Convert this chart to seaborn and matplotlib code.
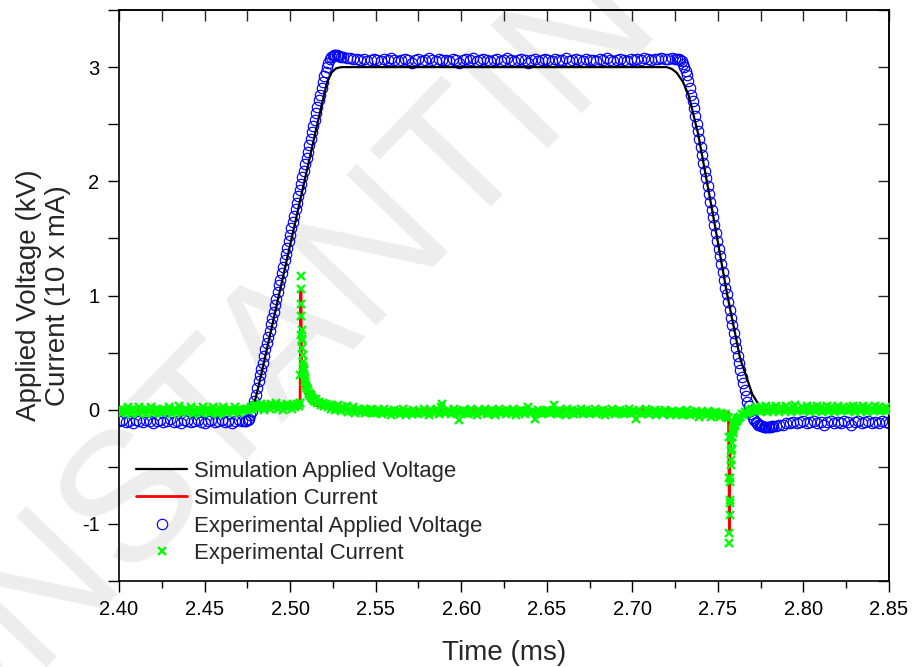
import numpy as np
import pandas as pd
import matplotlib
matplotlib.use("Agg")
import matplotlib.pyplot as plt
import seaborn as sns
from matplotlib.ticker import MultipleLocator, FormatStrFormatter

# ---------------- data ----------------
# simulated applied voltage (kV), breakpoints of the trapezoidal pulse
volt_sim_t = [2.400, 2.4775, 2.4790, 2.4810, 2.4830, 2.5000, 2.5150, 2.5190, 2.5215,
              2.5240, 2.5270, 2.5300, 2.7200, 2.7230, 2.7260, 2.7296, 2.7330, 2.7384,
              2.7470, 2.7553, 2.7630, 2.7700, 2.7740, 2.7770, 2.850]
volt_sim_v = [0.0, 0.0, 0.05, 0.17, 0.30, 1.44, 2.44, 2.70, 2.86,
              2.95, 2.99, 3.00, 3.00, 2.985, 2.95, 2.87, 2.75, 2.42,
              1.72, 1.02, 0.45, 0.14, 0.04, 0.0, 0.0]

# simulated current (10 x mA)
cur_sim_t = [2.400, 2.4775, 2.4800, 2.5058, 2.5061, 2.5063, 2.5066, 2.5070, 2.5080,
             2.5090, 2.5100, 2.5120, 2.5150, 2.5200, 2.5250, 2.7200, 2.7260, 2.7562,
             2.7565, 2.7567, 2.7570, 2.7575, 2.7580, 2.7590, 2.7600, 2.7620, 2.7650,
             2.7680, 2.850]
cur_sim_v = [0.0, 0.0, 0.02, 0.02, 0.60, 1.05, 0.50, 0.30, 0.20,
             0.15, 0.11, 0.07, 0.04, 0.02, 0.0, 0.0, -0.02, -0.02,
             -0.55, -1.05, -0.45, -0.30, -0.25, -0.17, -0.12, -0.07, -0.03,
             -0.01, 0.0]

# measured applied voltage (kV): record segments as (start time, step, samples)
volt_exp_base1 = (2.400, 0.002, [
    -0.10, -0.09, -0.11, -0.10, -0.12, -0.09, -0.10, -0.11, -0.09, -0.10,
    -0.12, -0.10, -0.09, -0.11, -0.10, -0.08, -0.11, -0.10, -0.12, -0.09,
    -0.10, -0.11, -0.10, -0.09, -0.11, -0.12, -0.10, -0.09, -0.11, -0.10,
    -0.09, -0.11, -0.10, -0.12, -0.10, -0.09, -0.10])
volt_exp_rise = (2.4736, 0.0008, [
    -0.10, -0.10, -0.09, -0.08, -0.05, -0.01, 0.03, 0.08, 0.13, 0.19,
    0.25, 0.30, 0.36, 0.41, 0.47, 0.53, 0.58, 0.64, 0.69, 0.75,
    0.80, 0.86, 0.92, 0.97, 1.03, 1.09, 1.14, 1.20, 1.25, 1.31,
    1.36, 1.42, 1.48, 1.53, 1.59, 1.64, 1.70, 1.76, 1.81, 1.87,
    1.92, 1.98, 2.04, 2.09, 2.15, 2.20, 2.26, 2.32, 2.37, 2.43,
    2.48, 2.54, 2.60, 2.65, 2.71, 2.76, 2.82, 2.87, 2.92, 2.96,
    3.00, 3.04, 3.07, 3.09, 3.10, 3.11, 3.11, 3.11, 3.10, 3.10,
    3.09])
volt_exp_top = (2.531, 0.002, [
    3.09, 3.08, 3.08, 3.07, 3.07, 3.06, 3.07, 3.05, 3.06, 3.07,
    3.06, 3.05, 3.07, 3.06, 3.08, 3.06, 3.05, 3.06, 3.07, 3.06,
    3.04, 3.06, 3.07, 3.05, 3.06, 3.08, 3.06, 3.05, 3.07, 3.06,
    3.06, 3.05, 3.07, 3.06, 3.04, 3.06, 3.07, 3.06, 3.08, 3.05,
    3.06, 3.07, 3.06, 3.05, 3.06, 3.07, 3.05, 3.06, 3.08, 3.06,
    3.05, 3.06, 3.07, 3.06, 3.04, 3.06, 3.07, 3.05, 3.06, 3.07,
    3.06, 3.05, 3.07, 3.06, 3.06, 3.08, 3.05, 3.06, 3.07, 3.06,
    3.05, 3.07, 3.06, 3.06, 3.05, 3.07, 3.06, 3.08, 3.06, 3.05,
    3.06, 3.07, 3.06, 3.05, 3.07, 3.06, 3.07, 3.06, 3.08, 3.07,
    3.06, 3.07, 3.07, 3.08, 3.07, 3.07, 3.08, 3.07])
volt_exp_fall = (2.7264, 0.0008, [
    3.07, 3.07, 3.06, 3.05, 3.03, 3.00, 2.97, 2.93, 2.88, 2.82,
    2.76, 2.70, 2.64, 2.57, 2.50, 2.44, 2.37, 2.30, 2.23, 2.16,
    2.09, 2.03, 1.96, 1.89, 1.82, 1.75, 1.69, 1.62, 1.55, 1.48,
    1.41, 1.35, 1.28, 1.21, 1.14, 1.07, 1.01, 0.94, 0.87, 0.80,
    0.74, 0.67, 0.60, 0.54, 0.47, 0.41, 0.35, 0.29, 0.23, 0.17,
    0.12, 0.07, 0.03, -0.01, -0.04, -0.07, -0.09, -0.11, -0.12, -0.13,
    -0.13, -0.14, -0.14, -0.15, -0.15, -0.15, -0.15, -0.15, -0.15, -0.14,
    -0.14])
volt_exp_base2 = (2.784, 0.002, [
    -0.14, -0.13, -0.13, -0.12, -0.12, -0.11, -0.12, -0.11, -0.10, -0.12,
    -0.11, -0.10, -0.12, -0.11, -0.13, -0.11, -0.10, -0.12, -0.11, -0.12,
    -0.10, -0.11, -0.13, -0.11, -0.10, -0.12, -0.11, -0.10, -0.12, -0.11,
    -0.12, -0.10, -0.11, -0.12])

# measured current (10 x mA): 1 us record from 2.400 ms
cur_exp_t0 = 2.400
cur_exp_dt = 0.001
cur_exp = [
    -0.01, 0.01, -0.03, 0.00, -0.02, 0.02, -0.01, -0.04, 0.01, -0.02, 0.00, -0.03, 0.02, -0.01, -0.02, 0.01, -0.04, 0.00, -0.01, 0.02, -0.03, -0.01, 0.01, -0.02, 0.00,
    -0.03, 0.01, -0.01, -0.02, 0.02, 0.00, -0.04, -0.01, 0.01, -0.02, 0.03, -0.01, -0.03, 0.00, 0.01, -0.02, -0.01, 0.02, -0.04, 0.00, -0.02, 0.01, -0.01, -0.03, 0.02,
    0.00, -0.02, 0.01, -0.03, -0.01, 0.02, -0.02, 0.00, -0.04, 0.01, -0.01, 0.02, -0.02, -0.03, 0.00, 0.01, -0.01, -0.02, 0.02, 0.00, -0.03, 0.01, -0.01, 0.00, 0.01,
    0.00, 0.01, 0.02, 0.01, 0.03, 0.04, 0.01, 0.03, 0.05, 0.02, 0.00, 0.04, 0.03, 0.01, 0.05, 0.02, 0.03, 0.06, 0.01, 0.03, 0.04, 0.00, 0.03, 0.05, 0.02,
    0.03, 0.01, 0.04, 0.02, 0.05, 0.03, 0.06, 0.62, 0.36, 0.25, 0.19, 0.14, 0.13, 0.10, 0.08, 0.09, 0.06, 0.07, 0.04, 0.06, 0.03, 0.05, 0.02, 0.04, 0.01,
    0.03, 0.00, 0.02, 0.04, 0.01, -0.01, 0.02, 0.00, 0.03, -0.02, 0.01, -0.01, 0.02, -0.03, 0.00, 0.01, -0.02, -0.01, 0.01, -0.03, 0.00, -0.02, 0.01, -0.01, -0.03,
    -0.01, -0.03, 0.00, -0.02, -0.04, 0.01, -0.02, -0.03, -0.01, -0.05, -0.02, 0.00, -0.03, -0.01, -0.04, -0.02, 0.01, -0.03, -0.05, -0.01, -0.02, -0.04, 0.00, -0.03, -0.02,
    -0.04, -0.01, -0.02, 0.01, -0.03, -0.02, -0.05, 0.00, -0.01, -0.03, -0.02, 0.01, -0.04, 0.02, 0.05, -0.02, -0.03, 0.00, -0.01, -0.04, -0.02, 0.01, -0.03, -0.01, -0.09,
    -0.02, 0.00, -0.03, -0.01, -0.04, -0.02, 0.01, -0.03, -0.02, -0.05, 0.00, -0.01, -0.03, -0.02, 0.01, -0.04, -0.01, -0.03, 0.00, -0.02, -0.05, -0.01, 0.01, -0.03, -0.02,
    -0.01, -0.04, 0.00, -0.02, -0.03, 0.01, -0.02, -0.05, -0.01, -0.03, 0.00, -0.02, -0.04, -0.01, 0.02, -0.03, -0.02, -0.01, -0.08, -0.03, 0.00, -0.02, -0.04, -0.01, -0.03,
    0.00, -0.02, -0.03, -0.01, 0.04, -0.02, -0.04, 0.00, -0.03, -0.01, -0.02, -0.05, 0.01, -0.03, -0.02, 0.00, -0.04, -0.01, -0.03, -0.02, 0.01, -0.04, -0.02, 0.00, -0.03,
    -0.01, -0.03, -0.02, 0.01, -0.04, -0.02, -0.01, -0.03, 0.00, -0.05, -0.02, -0.01, -0.03, 0.01, -0.02, -0.04, -0.01, -0.03, 0.00, -0.02, -0.04, -0.01, -0.03, 0.01, -0.02,
    -0.03, -0.01, -0.08, -0.02, 0.00, -0.04, -0.02, -0.03, 0.01, -0.01, -0.04, -0.02, -0.03, 0.00, -0.05, -0.02, -0.01, -0.03, -0.04, 0.00, -0.02, -0.03, -0.05, -0.01, -0.03,
    -0.02, -0.04, -0.01, -0.03, -0.05, -0.02, -0.04, 0.00, -0.03, -0.05, -0.02, -0.04, -0.01, -0.03, -0.06, -0.02, -0.04, -0.03, -0.05, -0.01, -0.04, -0.06, -0.03, -0.05, -0.02,
    -0.04, -0.06, -0.03, -0.05, -0.04, -0.06, -0.07, -0.82, -0.34, -0.19, -0.13, -0.10, -0.07, -0.06, -0.04, -0.05, -0.02, -0.03, 0.00, -0.02, 0.01, -0.01, 0.02, 0.00, -0.01,
    0.02, -0.01, 0.01, 0.03, -0.02, 0.00, 0.02, -0.01, 0.01, 0.03, 0.00, -0.02, 0.02, 0.01, -0.01, 0.03, 0.00, 0.01, -0.02, 0.02, 0.04, -0.01, 0.01, 0.00, 0.02,
    -0.01, 0.01, 0.03, 0.00, -0.02, 0.02, 0.01, -0.01, 0.03, 0.00, 0.02, -0.02, 0.01, 0.00, 0.03, -0.01, 0.02, 0.01, -0.02, 0.00, 0.03, 0.01, -0.01, 0.02, 0.00,
    0.01, -0.01, 0.02, 0.00, 0.03, -0.02, 0.01, 0.02, -0.01, 0.00, 0.03, 0.01, -0.02, 0.02, 0.00, 0.01, -0.01, 0.03, 0.00, 0.02, -0.01, 0.01, 0.00, 0.02, -0.01,
    0.01]

# fast-sampled points on the two current pulses
pulse_t = [2.5058, 2.5060, 2.5061, 2.5062, 2.5063, 2.5064, 2.5066, 2.5068, 2.5070,
           2.5072, 2.5074, 2.5076, 2.5078, 2.5080, 2.5083, 2.5086, 2.5090, 2.5094,
           2.5098, 2.5103, 2.5108, 2.5114, 2.5120, 2.5127, 2.5135, 2.5145,
           2.7562, 2.7564, 2.7565, 2.7566, 2.7567, 2.7568, 2.7569, 2.7570, 2.7572,
           2.7574, 2.7576, 2.7578, 2.7580, 2.7583, 2.7586, 2.7590, 2.7595, 2.7600,
           2.7606, 2.7613, 2.7620, 2.7630]
pulse_v = [0.06, 0.30, 0.65, 1.17, 1.06, 0.93, 0.82, 0.70, 0.61,
           0.54, 0.48, 0.42, 0.38, 0.35, 0.31, 0.28, 0.24, 0.21,
           0.19, 0.17, 0.15, 0.13, 0.12, 0.10, 0.09, 0.08,
           -0.06, -0.24, -0.60, -1.17, -1.08, -0.92, -0.79, -0.63, -0.60,
           -0.48, -0.44, -0.36, -0.29, -0.24, -0.20, -0.17, -0.15, -0.13,
           -0.11, -0.09, -0.08, -0.06]

legend_labels = ["Simulation Applied Voltage", "Simulation Current",
                 "Experimental Applied Voltage", "Experimental Current"]

# ---------------- tables ----------------
def segment_frame(seg):
    t0, dt, vals = seg
    t = np.round(t0 + dt * np.arange(len(vals)), 5)
    return pd.DataFrame({"t": t, "v": vals})

sim_v = pd.DataFrame({"t": volt_sim_t, "v": volt_sim_v})
sim_i = pd.DataFrame({"t": cur_sim_t, "v": cur_sim_v})
exp_v = pd.concat([segment_frame(s) for s in
                   (volt_exp_base1, volt_exp_rise, volt_exp_top,
                    volt_exp_fall, volt_exp_base2)], ignore_index=True)
exp_i = pd.concat([segment_frame((cur_exp_t0, cur_exp_dt, cur_exp)),
                   pd.DataFrame({"t": pulse_t, "v": pulse_v})],
                  ignore_index=True).sort_values("t")

# ---------------- figure ----------------
sns.set_theme(style="white")
plt.rcParams["font.family"] = ["Liberation Sans", "DejaVu Sans"]
plt.rcParams["axes.unicode_minus"] = False

fig = plt.figure(figsize=(9.13, 6.67), dpi=100)
fig.patch.set_facecolor("white")

# faint diagonal watermark, kept underneath the axes and labels
fig.text(0.344, 0.53, "CONSTANTINOU", rotation=46, rotation_mode="anchor",
         ha="center", va="center", fontsize=132, color="#ededed", zorder=-5)

ax = fig.add_axes([0.1303, 0.1289, 0.8434, 0.8561])
ax.patch.set_alpha(0)

sns.lineplot(data=exp_v, x="t", y="v", ax=ax, estimator=None, sort=False,
             linestyle="none", marker="o", markersize=7.5,
             markerfacecolor="none", markeredgecolor="#0000ff",
             markeredgewidth=0.85, color="#0000ff", label=legend_labels[2],
             zorder=2)
sns.lineplot(data=sim_v, x="t", y="v", ax=ax, estimator=None, sort=False,
             color="black", linewidth=1.6, label=legend_labels[0], zorder=3)
sns.lineplot(data=sim_i, x="t", y="v", ax=ax, estimator=None, sort=False,
             color="#ff0000", linewidth=2.0, label=legend_labels[1], zorder=3)
sns.lineplot(data=exp_i, x="t", y="v", ax=ax, estimator=None, sort=False,
             linestyle="none", marker="x", markersize=5.5,
             markeredgecolor="#00ff00", markeredgewidth=1.7,
             color="#00ff00", label=legend_labels[3], zorder=4)

ax.set_xlim(2.40, 2.85)
ax.set_ylim(-1.5, 3.5)
ax.xaxis.set_major_locator(MultipleLocator(0.05))
ax.xaxis.set_minor_locator(MultipleLocator(0.025))
ax.xaxis.set_major_formatter(FormatStrFormatter("%.2f"))
ax.yaxis.set_major_locator(MultipleLocator(1))
ax.yaxis.set_minor_locator(MultipleLocator(0.5))

for side in ax.spines.values():
    side.set_color("black")
    side.set_linewidth(1.2)

ax.tick_params(axis="both", which="both", direction="out", colors="black",
               width=1.0, labelsize=14.5, bottom=True, left=True,
               top=False, right=False)
ax.tick_params(axis="x", which="major", length=8, pad=6)
ax.tick_params(axis="x", which="minor", length=5)
ax.tick_params(axis="y", which="both", length=8, pad=6)

# inward ticks on the top and right frame edges
top = ax.secondary_xaxis("top")
top.xaxis.set_major_locator(MultipleLocator(0.025))
top.tick_params(direction="in", length=8, width=1.0, labeltop=False)
top.spines["top"].set_linewidth(1.2)
right = ax.secondary_yaxis("right")
right.yaxis.set_major_locator(MultipleLocator(0.5))
right.tick_params(direction="in", length=8, width=1.0, labelright=False)
right.spines["right"].set_linewidth(1.2)

ax.set_xlabel("Time (ms)", fontsize=20, labelpad=15)
ax.set_ylabel("Applied Voltage (kV)\nCurrent (10 x mA)", fontsize=20,
              labelpad=8, linespacing=1.12)

handles, labels = ax.get_legend_handles_labels()
lookup = dict(zip(labels, handles))
ax.legend([lookup[k] for k in legend_labels], legend_labels,
          loc="upper left", bbox_to_anchor=(0.0224, 0.2105), frameon=False,
          fontsize=15.9, handlelength=2.3, handletextpad=0.32,
          labelspacing=0.29, borderpad=0, borderaxespad=0)

fig.savefig("out.png", dpi=100)
